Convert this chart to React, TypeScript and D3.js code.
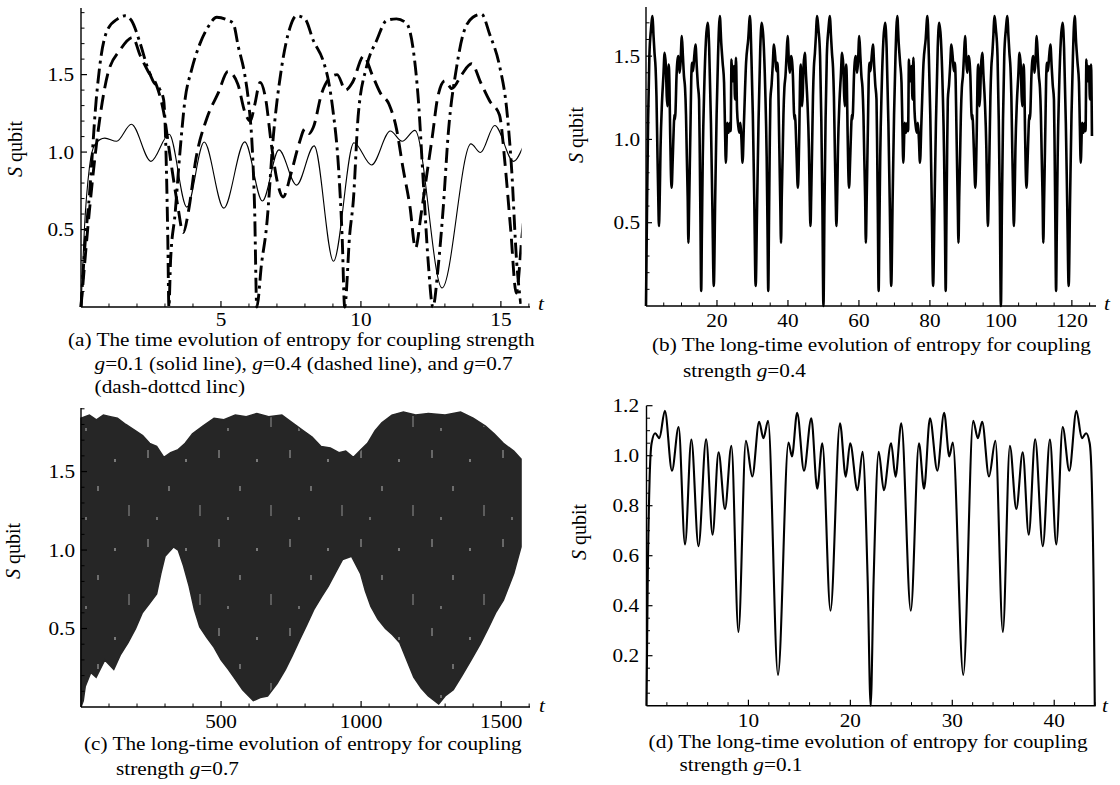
import React from 'react';
import * as d3 from 'd3';

type Pt = [number, number];

// g = 0.1 (panel d, and solid line of panel a)
const g01: Pt[] = [
  [0, 0], [0.12, 0.5], [0.3, 0.9], [0.5, 1.05], [0.85, 1.09], [1.27, 1.07], [1.8, 1.18], [2.5, 0.94],
  [3.15, 1.115], [3.78, 0.645], [4.4, 1.065], [5.1, 0.638], [5.85, 1.066], [6.48, 0.684], [7.07, 1.014],
  [7.7, 0.787], [8.33, 1.04], [9.02, 0.295], [9.75, 1.06], [10.38, 0.917], [11.05, 1.136], [11.47, 1.07],
  [11.93, 1.14], [12.9, 0.123], [13.93, 1.053], [14.27, 0.997], [14.78, 1.172], [15.45, 0.94], [16.17, 1.15],
  [16.75, 0.868], [17.25, 1.05], [18.05, 0.38], [18.98, 1.13], [19.55, 0.916], [19.98, 1.05], [20.7, 0.862],
  [21.2, 1.016], [21.7, 0.5], [21.99, 0.0],
  [22.28, 0.5], [22.78, 1.016], [23.28, 0.862], [24.0, 1.05], [24.43, 0.916], [25.0, 1.13], [25.93, 0.38],
  [26.73, 1.05], [27.23, 0.868], [27.81, 1.15], [28.53, 0.94], [29.2, 1.172], [29.71, 0.997], [30.05, 1.053],
  [31.08, 0.123], [32.05, 1.14], [32.51, 1.07], [32.93, 1.136], [33.6, 0.917], [34.23, 1.06], [34.96, 0.295],
  [35.65, 1.04], [36.28, 0.787], [36.91, 1.014], [37.5, 0.684], [38.13, 1.066], [38.88, 0.638], [39.58, 1.065],
  [40.2, 0.645], [40.83, 1.115], [41.48, 0.94], [42.18, 1.18], [42.71, 1.07], [43.13, 1.09], [43.48, 1.05],
  [43.68, 0.9], [43.86, 0.5], [43.98, 0],
];

// g = 0.4 (panel b, and dashed line of panel a)
const g04: Pt[] = [
  [0, 0], [0.3, 0.62], [0.6, 1.12], [0.95, 1.5], [1.4, 1.66], [1.85, 1.74], [2.1, 1.63], [2.4, 1.52], [2.7, 1.43],
  [2.95, 1.26], [3.2, 0.95], [3.45, 0.66], [3.65, 0.48], [3.85, 0.63], [4.1, 0.95], [4.5, 1.22], [4.9, 1.38],
  [5.25, 1.52], [5.6, 1.44], [5.85, 1.26], [6.05, 1.2], [6.2, 1.3], [6.4, 1.45], [6.6, 1.34], [6.8, 1.05],
  [7.0, 0.82], [7.22, 0.71], [7.5, 0.86], [7.8, 1.06], [8.0, 1.15], [8.15, 1.12], [8.3, 1.16], [8.6, 1.38],
  [8.9, 1.48], [9.15, 1.5], [9.45, 1.4], [9.7, 1.45], [10.1, 1.62], [10.4, 1.5], [10.7, 1.38], [11.0, 1.31],
  [11.27, 1.15], [11.5, 0.9], [11.75, 0.65], [11.95, 0.38], [12.15, 0.6], [12.35, 0.85], [12.55, 1.1],
  [12.75, 1.36], [13.0, 1.46], [13.25, 1.41], [13.6, 1.5], [13.95, 1.57], [14.3, 1.44], [14.6, 1.33],
  [14.95, 1.24], [15.15, 0.92], [15.35, 0.5], [15.55, 0.09], [15.75, 0.45], [16.0, 0.9], [16.4, 1.3],
  [16.9, 1.6], [17.4, 1.7], [17.8, 1.55], [18.3, 1.1], [18.7, 0.6], [19.1, 0.12], [19.5, 0.65], [19.9, 1.15],
  [20.3, 1.5], [20.8, 1.74], [21.2, 1.58], [21.6, 1.46], [22.0, 1.34], [22.25, 1.08], [22.5, 0.86], [22.9, 1.1],
  [23.3, 1.04], [23.6, 1.1], [23.85, 1.05], [24.1, 1.48], [24.4, 1.35], [24.8, 1.44], [25.1, 1.24],
  [25.35, 1.49], [25.65, 1.18], [26.0, 1.08], [26.3, 1.04], [26.6, 1.1], [26.9, 1.0], [27.2, 0.86], [27.6, 1.1],
  [28.2, 1.46], [28.8, 1.6], [29.3, 1.74], [29.7, 1.5], [30.1, 1.15], [30.5, 0.65], [30.9, 0.12], [31.3, 0.6],
  [31.7, 1.1], [32.2, 1.55], [32.6, 1.7], [33.1, 1.6], [33.6, 1.3], [34.0, 0.9], [34.25, 0.45], [34.45, 0.09],
  [34.65, 0.5], [34.85, 0.92], [35.05, 1.24], [35.4, 1.33], [35.7, 1.44], [36.05, 1.57], [36.4, 1.5],
  [36.75, 1.41], [37.0, 1.46], [37.25, 1.36], [37.45, 1.1], [37.65, 0.85], [37.85, 0.6], [38.05, 0.38],
  [38.25, 0.65], [38.5, 0.9], [38.73, 1.15], [39.0, 1.31], [39.3, 1.38], [39.6, 1.5], [39.9, 1.62], [40.3, 1.45],
  [40.55, 1.4], [40.85, 1.5], [41.1, 1.48], [41.4, 1.38], [41.7, 1.16], [41.85, 1.12], [42.0, 1.15], [42.2, 1.06],
  [42.5, 0.86], [42.78, 0.71], [43.0, 0.82], [43.2, 1.05], [43.4, 1.34], [43.6, 1.45], [43.8, 1.3], [43.95, 1.2],
  [44.15, 1.26], [44.4, 1.44], [44.75, 1.52], [45.1, 1.38], [45.5, 1.22], [45.9, 0.95], [46.15, 0.63],
  [46.35, 0.48], [46.55, 0.66], [46.8, 0.95], [47.05, 1.26], [47.3, 1.43], [47.6, 1.52], [47.9, 1.63],
  [48.15, 1.74], [48.6, 1.66], [49.05, 1.5], [49.4, 1.12], [49.7, 0.62], [50.0, 0],
  [50.3, 0.62], [50.6, 1.12], [50.95, 1.5], [51.4, 1.66], [51.85, 1.74], [52.1, 1.63], [52.4, 1.52], [52.7, 1.43],
  [52.95, 1.26], [53.2, 0.95], [53.45, 0.66], [53.65, 0.48], [53.85, 0.63], [54.1, 0.95], [54.5, 1.22],
  [54.9, 1.38], [55.25, 1.52], [55.6, 1.44], [55.85, 1.26], [56.05, 1.2], [56.2, 1.3], [56.4, 1.45], [56.6, 1.34],
  [56.8, 1.05], [57.0, 0.82], [57.22, 0.71], [57.5, 0.86], [57.8, 1.06], [58.0, 1.15], [58.15, 1.12],
  [58.3, 1.16], [58.6, 1.38], [58.9, 1.48], [59.15, 1.5], [59.45, 1.4], [59.7, 1.45], [60.1, 1.62], [60.4, 1.5],
  [60.7, 1.38], [61.0, 1.31], [61.27, 1.15], [61.5, 0.9], [61.75, 0.65], [61.95, 0.38], [62.15, 0.6],
  [62.35, 0.85], [62.55, 1.1], [62.75, 1.36], [63.0, 1.46], [63.25, 1.41], [63.6, 1.5], [63.95, 1.57],
  [64.3, 1.44], [64.6, 1.33], [64.95, 1.24], [65.15, 0.92], [65.35, 0.5], [65.55, 0.09], [65.75, 0.45],
  [66.0, 0.9], [66.4, 1.3], [66.9, 1.6], [67.4, 1.7], [67.8, 1.55], [68.3, 1.1], [68.7, 0.6], [69.1, 0.12],
  [69.5, 0.65], [69.9, 1.15], [70.3, 1.5], [70.8, 1.74], [71.2, 1.58], [71.6, 1.46], [72.0, 1.34], [72.25, 1.08],
  [72.5, 0.86], [72.9, 1.1], [73.3, 1.04], [73.6, 1.1], [73.85, 1.05], [74.1, 1.48], [74.4, 1.35], [74.8, 1.44],
  [75.1, 1.24],
  [75.35, 1.49], [75.65, 1.18], [76.0, 1.08], [76.3, 1.04], [76.6, 1.1], [76.9, 1.0], [77.2, 0.86], [77.6, 1.1],
  [78.2, 1.46], [78.8, 1.6], [79.3, 1.74], [79.7, 1.5], [80.1, 1.15], [80.5, 0.65], [80.9, 0.12], [81.3, 0.6],
  [81.7, 1.1], [82.2, 1.55], [82.6, 1.7], [83.1, 1.6], [83.6, 1.3], [84.0, 0.9], [84.25, 0.45], [84.45, 0.09],
  [84.65, 0.5], [84.85, 0.92], [85.05, 1.24], [85.4, 1.33], [85.7, 1.44], [86.05, 1.57], [86.4, 1.5],
  [86.75, 1.41], [87.0, 1.46], [87.25, 1.36], [87.45, 1.1], [87.65, 0.85], [87.85, 0.6], [88.05, 0.38],
  [88.25, 0.65], [88.5, 0.9], [88.73, 1.15], [89.0, 1.31], [89.3, 1.38], [89.6, 1.5], [89.9, 1.62], [90.3, 1.45],
  [90.55, 1.4], [90.85, 1.5], [91.1, 1.48], [91.4, 1.38], [91.7, 1.16], [91.85, 1.12], [92.0, 1.15], [92.2, 1.06],
  [92.5, 0.86], [92.78, 0.71], [93.0, 0.82], [93.2, 1.05], [93.4, 1.34], [93.6, 1.45], [93.8, 1.3], [93.95, 1.2],
  [94.15, 1.26], [94.4, 1.44], [94.75, 1.52], [95.1, 1.38], [95.5, 1.22], [95.9, 0.95], [96.15, 0.63],
  [96.35, 0.48], [96.55, 0.66], [96.8, 0.95], [97.05, 1.26], [97.3, 1.43], [97.6, 1.52], [97.9, 1.63],
  [98.15, 1.74], [98.6, 1.66], [99.05, 1.5], [99.4, 1.12], [99.7, 0.62], [100.0, 0],
  [100.3, 0.62], [100.6, 1.12], [100.95, 1.5], [101.4, 1.66], [101.85, 1.74], [102.1, 1.63], [102.4, 1.52],
  [102.7, 1.43], [102.95, 1.26], [103.2, 0.95], [103.45, 0.66], [103.65, 0.48], [103.85, 0.63], [104.1, 0.95],
  [104.5, 1.22], [104.9, 1.38], [105.25, 1.52], [105.6, 1.44], [105.85, 1.26], [106.05, 1.2], [106.2, 1.3],
  [106.4, 1.45], [106.6, 1.34], [106.8, 1.05], [107.0, 0.82], [107.22, 0.71], [107.5, 0.86], [107.8, 1.06],
  [108.0, 1.15], [108.15, 1.12], [108.3, 1.16], [108.6, 1.38], [108.9, 1.48], [109.15, 1.5], [109.45, 1.4],
  [109.7, 1.45], [110.1, 1.62], [110.4, 1.5], [110.7, 1.38], [111.0, 1.31], [111.27, 1.15], [111.5, 0.9],
  [111.75, 0.65], [111.95, 0.38], [112.15, 0.6], [112.35, 0.85], [112.55, 1.1], [112.75, 1.36], [113.0, 1.46],
  [113.25, 1.41], [113.6, 1.5], [113.95, 1.57], [114.3, 1.44], [114.6, 1.33], [114.95, 1.24], [115.15, 0.92],
  [115.35, 0.5], [115.55, 0.09], [115.75, 0.45], [116.0, 0.9], [116.4, 1.3], [116.9, 1.6], [117.4, 1.7],
  [117.8, 1.55], [118.3, 1.1], [118.7, 0.6], [119.1, 0.12], [119.5, 0.65], [119.9, 1.15], [120.3, 1.5],
  [120.8, 1.74], [121.2, 1.58], [121.6, 1.46], [122.0, 1.34], [122.25, 1.08], [122.5, 0.86], [122.9, 1.1],
  [123.3, 1.04], [123.6, 1.1], [123.85, 1.05], [124.1, 1.48], [124.4, 1.35], [124.8, 1.44], [125.1, 1.24],
  [125.4, 1.45], [125.66, 1.02],
];

// g = 0.7, short time (dash-dotted line of panel a)
const g07: Pt[] = [
  [0, 0], [0.15, 0.42], [0.3, 0.72], [0.54, 1.33], [0.71, 1.61], [0.95, 1.79], [1.31, 1.86], [1.57, 1.88],
  [1.8, 1.85], [2.1, 1.71], [2.37, 1.55], [2.6, 1.45], [2.8, 1.41], [2.95, 1.34], [3.05, 0.9], [3.1, 0.45],
  [3.14, 0],
  [3.2, 0.3], [3.36, 0.6], [3.54, 1.01], [3.71, 1.33], [3.95, 1.53], [4.25, 1.7], [4.55, 1.81], [4.85, 1.87],
  [5.26, 1.85], [5.44, 1.83], [5.62, 1.68], [5.85, 1.5], [6.0, 1.3], [6.12, 1.02], [6.2, 0.65], [6.28, 0],
  [6.45, 0.28], [6.63, 0.52], [6.87, 1.1], [7.17, 1.55], [7.46, 1.8], [7.7, 1.88], [8.0, 1.86], [8.3, 1.72],
  [8.65, 1.59], [8.84, 1.46], [9.0, 1.27], [9.2, 0.9], [9.33, 0.45], [9.42, 0],
  [9.6, 0.47], [9.73, 0.69], [9.9, 1.23], [10.2, 1.55], [10.56, 1.72], [10.92, 1.85], [11.27, 1.86],
  [11.63, 1.83], [11.87, 1.66], [12.05, 1.34], [12.23, 0.8], [12.4, 0.3], [12.57, 0],
  [12.76, 0.26], [12.94, 0.64], [13.12, 1.12], [13.42, 1.55], [13.65, 1.76], [14.0, 1.87], [14.31, 1.89],
  [14.6, 1.76], [14.96, 1.55], [15.2, 1.29], [15.38, 0.9], [15.56, 0.3], [15.71, 0.02],
];

// g = 0.7, long time (panel c): upper and lower envelope of the dense oscillation
const g07Upper: Pt[] = [
  [0, 1.84], [30, 1.86], [55, 1.83], [80, 1.86], [105, 1.85], [130, 1.84], [160, 1.8], [195, 1.76],
  [220, 1.73], [245, 1.68], [270, 1.66], [296, 1.59], [320, 1.62], [347, 1.64], [372, 1.68], [398, 1.74],
  [435, 1.79], [475, 1.84], [510, 1.83], [551, 1.86], [590, 1.85], [628, 1.87], [670, 1.85], [717, 1.86],
  [755, 1.81], [794, 1.76], [825, 1.72], [857, 1.66], [890, 1.65], [921, 1.62], [945, 1.63], [972, 1.59],
  [1000, 1.64], [1023, 1.68], [1050, 1.76], [1074, 1.81], [1110, 1.86], [1151, 1.88], [1195, 1.86],
  [1240, 1.87], [1300, 1.86], [1355, 1.88], [1400, 1.84], [1444, 1.79], [1475, 1.74], [1508, 1.68],
  [1545, 1.63], [1571, 1.58],
];
const g07Lower: Pt[] = [
  [0, 0], [8, 0.04], [15, 0.13], [35, 0.22], [54, 0.19], [85, 0.3], [117, 0.24], [140, 0.33], [168, 0.41],
  [195, 0.5], [219, 0.6], [245, 0.66], [270, 0.72], [285, 0.85], [300, 0.96], [330, 1.02], [347, 1.0],
  [366, 0.9], [386, 0.77], [405, 0.62], [424, 0.51], [450, 0.44], [475, 0.38], [500, 0.3], [526, 0.24],
  [550, 0.18], [577, 0.11], [615, 0.04], [640, 0.06], [666, 0.07], [700, 0.15], [730, 0.24], [755, 0.33],
  [781, 0.43], [805, 0.52], [831, 0.62], [858, 0.7], [883, 0.77], [910, 0.86], [934, 0.94], [966, 0.96],
  [998, 0.85], [1015, 0.74], [1035, 0.64], [1060, 0.56], [1087, 0.5], [1112, 0.46], [1138, 0.41],
  [1163, 0.3], [1188, 0.19], [1215, 0.12], [1240, 0.07], [1277, 0.02], [1300, 0.07], [1329, 0.11],
  [1360, 0.2], [1393, 0.3], [1425, 0.4], [1456, 0.51], [1480, 0.6], [1508, 0.68], [1545, 0.85], [1571, 1.02],
];

// tick labels
const ticksAx = [5, 10, 15];
const ticksAy = [0.5, 1.0, 1.5];
const ticksBx = [20, 40, 60, 80, 100, 120];
const ticksBy = [0.5, 1.0, 1.5];
const ticksCx = [500, 1000, 1500];
const ticksCy = [0.5, 1.0, 1.5];
const ticksDx = [10, 20, 30, 40];
const ticksDy = [0.2, 0.4, 0.6, 0.8, 1.0, 1.2];

const FONT = '"Liberation Serif", "Times New Roman", Times, serif';
const FS = 19.5;
const SX = 1.09;

type Scale = d3.ScaleLinear<number, number>;

interface PanelCfg {
  x0: number; x1: number; y0: number; y1: number;
  xMax: number; yMax: number;
  xMajor: number[]; yMajor: number[];
  xMinorStep: number; yMinorStep: number;
  xFmt: (v: number) => string; yFmt: (v: number) => string;
  yLabRight: number; xLabBase: number;
  tPos: [number, number]; titlePos: [number, number];
}

function HText(props: { x: number; y: number; anchor?: string; children: React.ReactNode; italic?: boolean }) {
  return (
    <text
      transform={`translate(${props.x},${props.y}) scale(${SX},1)`}
      textAnchor={props.anchor || 'start'}
      fontFamily={FONT}
      fontSize={FS}
      fontStyle={props.italic ? 'italic' : 'normal'}
      fill="#000"
    >
      {props.children}
    </text>
  );
}

function minors(step: number, max: number, majors: number[]) {
  return d3.range(step, max + 1e-9, step)
    .map(v => Math.round(v * 1000) / 1000)
    .filter(v => !majors.some(m => Math.abs(m - v) < step / 10));
}

function Axes({ c, xs, ys }: { c: PanelCfg; xs: Scale; ys: Scale }) {
  const xMin = minors(c.xMinorStep, c.xMax, c.xMajor);
  const yMin = minors(c.yMinorStep, c.yMax, c.yMajor);
  return (
    <g>
      <line x1={c.x0} x2={c.x1} y1={c.y0} y2={c.y0} stroke="#000" strokeWidth={1.4} />
      <line x1={c.x0} x2={c.x0} y1={c.y0} y2={c.y1} stroke="#000" strokeWidth={1.4} />
      {c.xMajor.map(v => (
        <line key={'xM' + v} x1={xs(v)} x2={xs(v)} y1={c.y0} y2={c.y0 - 6} stroke="#000" strokeWidth={1.2} />
      ))}
      {xMin.map(v => (
        <line key={'xm' + v} x1={xs(v)} x2={xs(v)} y1={c.y0} y2={c.y0 - 3.5} stroke="#000" strokeWidth={1} />
      ))}
      {c.yMajor.map(v => (
        <line key={'yM' + v} x1={c.x0} x2={c.x0 + 6} y1={ys(v)} y2={ys(v)} stroke="#000" strokeWidth={1.2} />
      ))}
      {yMin.map(v => (
        <line key={'ym' + v} x1={c.x0} x2={c.x0 + 3.5} y1={ys(v)} y2={ys(v)} stroke="#000" strokeWidth={1} />
      ))}
      {c.xMajor.map(v => (
        <HText key={'xl' + v} x={xs(v)} y={c.xLabBase} anchor="middle">{c.xFmt(v)}</HText>
      ))}
      {c.yMajor.map(v => (
        <HText key={'yl' + v} x={c.yLabRight} y={ys(v) + 6.5} anchor="end">{c.yFmt(v)}</HText>
      ))}
      <HText x={c.tPos[0]} y={c.tPos[1]} italic>t</HText>
      <text
        transform={`translate(${c.titlePos[0]},${c.titlePos[1]}) rotate(-90)`}
        textAnchor="middle"
        fontFamily={FONT}
        fontSize={20}
        fill="#000"
      >
        <tspan fontStyle="italic">S</tspan> qubit
      </text>
    </g>
  );
}

function scales(c: PanelCfg): [Scale, Scale] {
  const xs = d3.scaleLinear().domain([0, c.xMax]).range([c.x0, c.x1]);
  const ys = d3.scaleLinear().domain([0, c.yMax]).range([c.y0, c.y1]);
  return [xs, ys];
}

const fmt1 = (v: number) => v.toFixed(1);
const fmt0 = (v: number) => String(v);

const cfgA: PanelCfg = {
  x0: 81, x1: 530, y0: 307, y1: 8, xMax: 16.04, yMax: 1.93,
  xMajor: ticksAx, yMajor: ticksAy, xMinorStep: 1, yMinorStep: 0.1,
  xFmt: fmt0, yFmt: fmt1, yLabRight: 74, xLabBase: 326,
  tPos: [538, 310], titlePos: [22, 149],
};
const cfgB: PanelCfg = {
  x0: 646, x1: 1096, y0: 306, y1: 7, xMax: 126.8, yMax: 1.795,
  xMajor: ticksBx, yMajor: ticksBy, xMinorStep: 5, yMinorStep: 0.1,
  xFmt: fmt0, yFmt: fmt1, yLabRight: 640, xLabBase: 327,
  tPos: [1104, 310], titlePos: [583, 135],
};
const cfgC: PanelCfg = {
  x0: 81, x1: 530, y0: 707, y1: 408, xMax: 1603, yMax: 1.905,
  xMajor: ticksCx, yMajor: ticksCy, xMinorStep: 100, yMinorStep: 0.1,
  xFmt: fmt0, yFmt: fmt1, yLabRight: 75, xLabBase: 728,
  tPos: [539, 712], titlePos: [20, 551],
};
const cfgD: PanelCfg = {
  x0: 646.5, x1: 1095.7, y0: 705.7, y1: 405.7, xMax: 44.07, yMax: 1.2,
  xMajor: ticksDx, yMajor: ticksDy, xMinorStep: 2, yMinorStep: 0.05,
  xFmt: fmt0, yFmt: fmt1, yLabRight: 639, xLabBase: 727,
  tPos: [1102, 712], titlePos: [586, 532],
};

function curvePath(data: Pt[], xs: Scale, ys: Scale) {
  const line = d3.line<Pt>().x(d => xs(d[0])).y(d => ys(d[1])).curve(d3.curveMonotoneX);
  return line(data) || '';
}

function PanelA() {
  const [xs, ys] = scales(cfgA);
  const clipX = xs(15.74);
  return (
    <g>
      <defs>
        <clipPath id="clipA">
          <rect x={cfgA.x0 - 5} y={0} width={clipX - cfgA.x0 + 5} height={cfgA.y0 + 4} />
        </clipPath>
      </defs>
      <g clipPath="url(#clipA)">
        <path d={curvePath(g01, xs, ys)} fill="none" stroke="#000" strokeWidth={1.1} />
        <path d={curvePath(g04, xs, ys)} fill="none" stroke="#000" strokeWidth={2.9} strokeDasharray="15,7" />
        <path d={curvePath(g07, xs, ys)} fill="none" stroke="#000" strokeWidth={2.9} strokeDasharray="15,5,3,5" />
      </g>
      <Axes c={cfgA} xs={xs} ys={ys} />
    </g>
  );
}

function PanelB() {
  const [xs, ys] = scales(cfgB);
  return (
    <g>
      <path d={curvePath(g04, xs, ys)} fill="none" stroke="#000" strokeWidth={2.6} strokeLinejoin="round" />
      <Axes c={cfgB} xs={xs} ys={ys} />
    </g>
  );
}

function PanelC() {
  const [xs, ys] = scales(cfgC);
  const poly: [number, number][] = [
    ...g07Upper.map(d => [xs(d[0]), ys(d[1])] as [number, number]),
    ...g07Lower.slice().reverse().map(d => [xs(d[0]), ys(d[1])] as [number, number]),
  ];
  const d = d3.line<[number, number]>().curve(d3.curveLinearClosed)(poly) || '';
  return (
    <g>
      <defs>
        <pattern id="speck" width={71} height={89} patternUnits="userSpaceOnUse">
          <rect x={0} y={0} width={71} height={89} fill="#262626" />
          <line x1={6} x2={6} y1={5} y2={13} stroke="#fff" strokeWidth={1} opacity={0.6} />
          <line x1={27} x2={27} y1={41} y2={46} stroke="#fff" strokeWidth={1.2} opacity={0.55} />
          <line x1={44} x2={44} y1={14} y2={17} stroke="#fff" strokeWidth={1.4} opacity={0.55} />
          <line x1={58} x2={58} y1={60} y2={71} stroke="#fff" strokeWidth={0.9} opacity={0.55} />
          <line x1={15} x2={15} y1={72} y2={75} stroke="#fff" strokeWidth={1.3} opacity={0.5} />
        </pattern>
      </defs>
      <path d={d} fill="url(#speck)" stroke="#262626" strokeWidth={1.5} />
      <Axes c={cfgC} xs={xs} ys={ys} />
    </g>
  );
}

function PanelD() {
  const [xs, ys] = scales(cfgD);
  return (
    <g>
      <path d={curvePath(g01, xs, ys)} fill="none" stroke="#000" strokeWidth={2.1} strokeLinejoin="round" />
      <Axes c={cfgD} xs={xs} ys={ys} />
    </g>
  );
}

function G() {
  return <tspan fontStyle="italic">g</tspan>;
}

function Captions() {
  return (
    <g>
      <HText x={68} y={346}>(a) The time evolution of entropy for coupling strength</HText>
      <HText x={94.6} y={370}><G />=0.1 (solid line), <G />=0.4 (dashed line), and <G />=0.7</HText>
      <HText x={94.6} y={393}>(dash-dottcd linc)</HText>

      <HText x={652} y={351}>(b) The long-time evolution of entropy for coupling</HText>
      <HText x={683} y={377}>strength <G />=0.4</HText>

      <HText x={84} y={750}>(c) The long-time evolution of entropy for coupling</HText>
      <HText x={116} y={775}>strength <G />=0.7</HText>

      <HText x={648.6} y={748}>(d) The long-time evolution of entropy for coupling</HText>
      <HText x={679.6} y={771}>strength <G />=0.1</HText>
    </g>
  );
}

export default function App() {
  return (
    <svg
      width={1120}
      height={785}
      viewBox="0 0 1120 785"
      style={{ position: 'absolute', left: 0, top: 0, background: '#fff' }}
    >
      <rect x={0} y={0} width={1120} height={785} fill="#fff" />
      <PanelA />
      <PanelB />
      <PanelC />
      <PanelD />
      <Captions />
    </svg>
  );
}
